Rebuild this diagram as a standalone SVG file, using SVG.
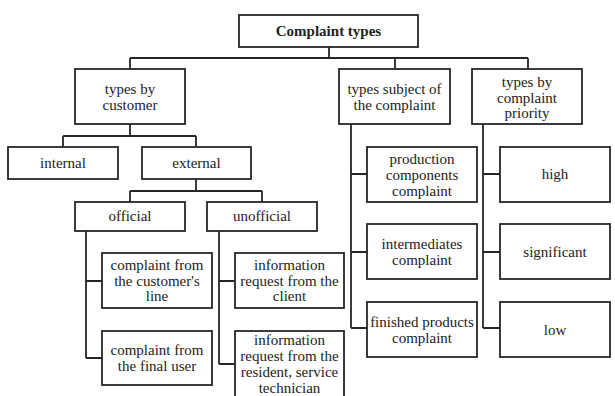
<svg xmlns="http://www.w3.org/2000/svg" width="615" height="396" viewBox="0 0 615 396">
<style>
.box{fill:#fff;stroke:#262626;stroke-width:1.8}
.ln{fill:none;stroke:#262626;stroke-width:1.8}
.t{font-family:'Liberation Serif','Times New Roman',serif;font-size:15px;fill:#222;text-anchor:middle}
.b{font-weight:bold}
</style>
<rect width="615" height="396" fill="#fff"/>
<g id="connectors" class="ln">
<path d="M329 47V58M130 58H528M130 58V69M395 58V69M528 58V69"/>
<path d="M130 124V136M63 136H196M63 136V147M196 136V147"/>
<path d="M196 179V191M130 191H262M130 191V202M262 191V202"/>
<path d="M86 231V358M86 281H102M86 358H102"/>
<path d="M219 231V364M219 281H235M219 364H235"/>
<path d="M351 124V328M351 174H367M351 252H367M351 328H367"/>
<path d="M483 124V328M483 174H500M483 252H500M483 328H500"/>
</g>
<g id="root"><rect class="box" x="239" y="15" width="179" height="32"/><text class="t b" x="328.5" y="36">Complaint types</text></g>
<g id="by-customer"><rect class="box" x="75" y="69" width="110" height="55"/><text class="t" x="130" y="94">types by</text><text class="t" x="130" y="110">customer</text></g>
<g id="subject"><rect class="box" x="339" y="69" width="111" height="55"/><text class="t" x="394.5" y="94">types subject of</text><text class="t" x="394.5" y="110">the complaint</text></g>
<g id="priority"><rect class="box" x="472" y="69" width="110" height="55"/><text class="t" x="527" y="87">types by</text><text class="t" x="527" y="103">complaint</text><text class="t" x="527" y="118">priority</text></g>
<g id="internal"><rect class="box" x="8" y="147" width="110" height="32"/><text class="t" x="63" y="168">internal</text></g>
<g id="external"><rect class="box" x="142" y="147" width="109" height="32"/><text class="t" x="196.5" y="168">external</text></g>
<g id="official"><rect class="box" x="75" y="202" width="110" height="29"/><text class="t" x="130" y="221">official</text></g>
<g id="unofficial"><rect class="box" x="207" y="202" width="110" height="29"/><text class="t" x="262" y="221">unofficial</text></g>
<g id="customers-line"><rect class="box" x="102" y="253" width="110" height="55"/><text class="t" x="157" y="270">complaint from</text><text class="t" x="157" y="286">the customer's</text><text class="t" x="157" y="301">line</text></g>
<g id="final-user"><rect class="box" x="102" y="331" width="110" height="54"/><text class="t" x="157" y="355">complaint from</text><text class="t" x="157" y="371">the final user</text></g>
<g id="info-client"><rect class="box" x="235" y="253" width="109" height="55"/><text class="t" x="289.5" y="270">information</text><text class="t" x="289.5" y="286">request from the</text><text class="t" x="289.5" y="301">client</text></g>
<g id="info-resident"><rect class="box" x="235" y="331" width="109" height="70"/><text class="t" x="289.5" y="345">information</text><text class="t" x="289.5" y="361">request from the</text><text class="t" x="289.5" y="377">resident, service</text><text class="t" x="289.5" y="393">technician</text></g>
<g id="production"><rect class="box" x="367" y="147" width="110" height="55"/><text class="t" x="422" y="164">production</text><text class="t" x="422" y="180">components</text><text class="t" x="422" y="196">complaint</text></g>
<g id="intermediates"><rect class="box" x="367" y="224" width="110" height="55"/><text class="t" x="422" y="249">intermediates</text><text class="t" x="422" y="265">complaint</text></g>
<g id="finished"><rect class="box" x="367" y="302" width="110" height="55"/><text class="t" x="422" y="327">finished products</text><text class="t" x="422" y="343">complaint</text></g>
<g id="high"><rect class="box" x="500" y="147" width="110" height="55"/><text class="t" x="555" y="179">high</text></g>
<g id="significant"><rect class="box" x="500" y="224" width="110" height="55"/><text class="t" x="555" y="257">significant</text></g>
<g id="low"><rect class="box" x="500" y="302" width="110" height="55"/><text class="t" x="555" y="335">low</text></g>
</svg>
